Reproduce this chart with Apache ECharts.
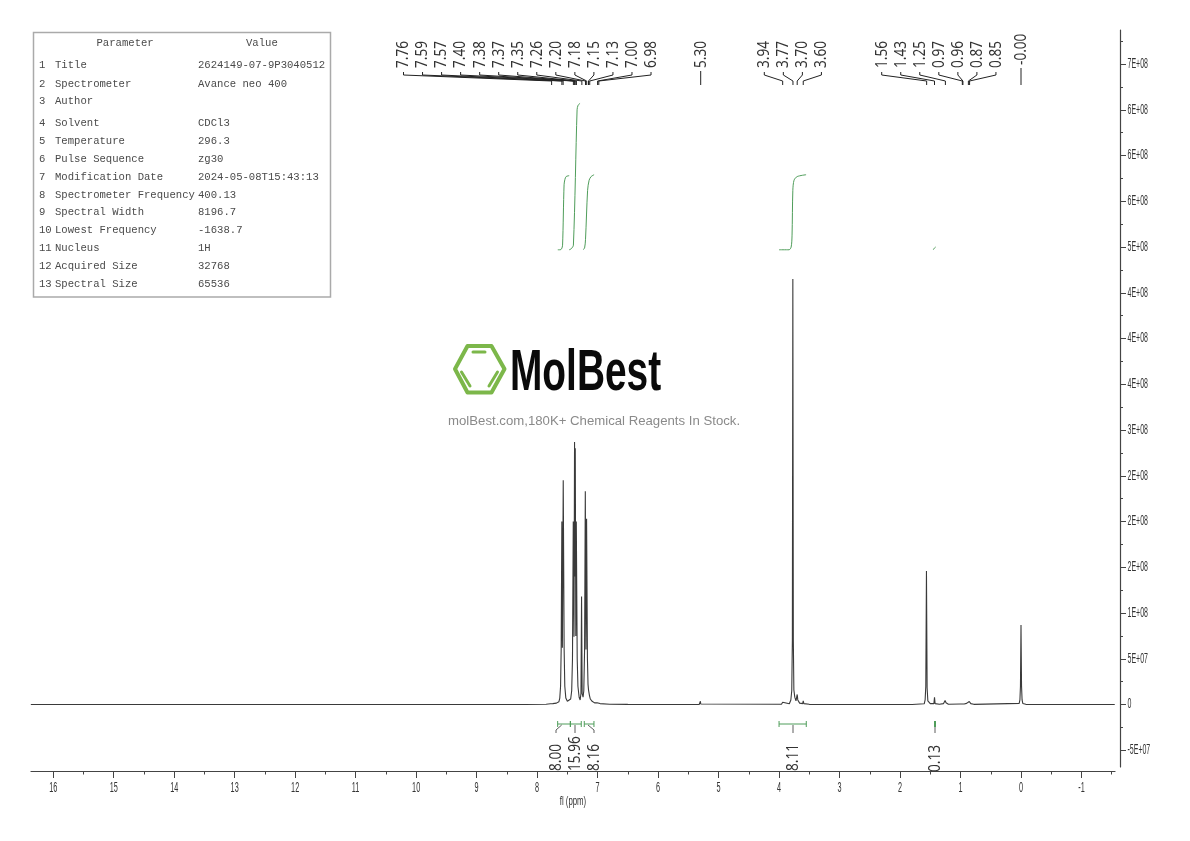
<!DOCTYPE html>
<html><head><meta charset="utf-8"><style>html,body{margin:0;padding:0;background:#fff}#c{width:1190px;height:841px}</style>
<script src="https://cdn.jsdelivr.net/npm/echarts@6/dist/echarts.min.js"></script></head><body><div id="c"></div>
<script>
const spectrum = [[16.37,0],[8.2,0],[7.85,3e5],[7.78,8e5],[7.76,2e6],[7.74,1e6],[7.68,1.5e6],[7.64,3e6],[7.625,7e6],[7.612,2e7],[7.602,6e7],[7.591,2.0e8],[7.582,6.2e7],[7.568,2.45e8],[7.553,6e7],[7.542,2e7],[7.525,7e6],[7.5,3.5e6],[7.47,3e6],[7.445,6e6],[7.428,1.5e7],[7.415,5e7],[7.402,2.0e8],[7.39,7.4e7],[7.381,2.87e8],[7.375,1.4e8],[7.369,2.8e8],[7.36,7.5e7],[7.352,2.0e8],[7.337,5e7],[7.325,2e7],[7.305,8e6],[7.288,5e6],[7.275,1.2e7],[7.265,1.18e8],[7.255,1.2e7],[7.24,8e6],[7.228,1.5e7],[7.215,6e7],[7.203,2.33e8],[7.192,6e7],[7.182,2.03e8],[7.168,5e7],[7.158,2.2e7],[7.15,1.6e7],[7.135,1e7],[7.12,6e6],[7.09,3.5e6],[7.05,1.8e6],[7.01,2e6],[7.0,4e6],[6.99,2.5e6],[6.98,3.5e6],[6.96,1e6],[6.8,3e5],[6.5,1e5],[5.32,0],[5.305,5e5],[5.3,3.5e6],[5.295,5e5],[5.27,0],[3.96,3e5],[3.94,2.5e6],[3.92,4e5],[3.83,8e5],[3.805,5e6],[3.79,1.5e7],[3.78,7e7],[3.772,4.65e8],[3.764,7e7],[3.755,1.6e7],[3.74,8e6],[3.72,4e6],[3.71,6e6],[3.7,1.1e7],[3.69,5e6],[3.66,1.5e6],[3.61,1e6],[3.6,4e6],[3.59,1e6],[3.5,2e5],[1.8,0],[1.6,8e5],[1.585,5e6],[1.574,2e7],[1.563,1.46e8],[1.552,1.8e7],[1.54,4e6],[1.5,1e6],[1.44,1e6],[1.43,8e6],[1.42,1e6],[1.35,3e5],[1.28,1e6],[1.255,4.5e6],[1.24,2e6],[1.2,3e5],[1.0,6e5],[0.97,1.5e6],[0.96,1.6e6],[0.94,6e5],[0.9,1.2e6],[0.87,3e6],[0.855,3.3e6],[0.83,1e6],[0.78,2e5],[0.03,1.2e6],[0.018,5e6],[0.009,2e7],[0,8.7e7],[-0.009,2e7],[-0.018,5e6],[-0.03,1.2e6],[-0.08,2e5],[-1.55,0]];
const integralCurve1 = [[7.658,4.97e8],[7.62,4.97e8],[7.595,4.98e8],[7.579,5.02e8],[7.554,5.68e8],[7.54,5.74e8],[7.52,5.77e8],[7.47,5.78e8]];
const integralCurve2 = [[7.47,4.97e8],[7.438,4.98e8],[7.4,5.02e8],[7.339,6.5e8],[7.322,6.55e8],[7.29,6.57e8]];
const integralCurve3 = [[7.24,4.97e8],[7.215,4.99e8],[7.2,5.08e8],[7.165,5.62e8],[7.14,5.73e8],[7.107,5.77e8],[7.058,5.79e8]];
const integralCurve4 = [[4.0,4.97e8],[3.835,4.97e8],[3.8,5.0e8],[3.785,5.13e8],[3.772,5.62e8],[3.752,5.73e8],[3.7,5.77e8],[3.553,5.79e8]];
const integralCurve5 = [[1.45,4.97e8],[1.43,4.99e8],[1.41,5.0e8]];
const xMajorTicks = [16,15,14,13,12,11,10,9,8,7,6,5,4,3,2,1,0,-1];
const xTickLabels = ['16','15','14','13','12','11','10','9','8','7','6','5','4','3','2','1','0','-1'];
const xMinorTicks = [15.5,14.5,13.5,12.5,11.5,10.5,9.5,8.5,7.5,6.5,5.5,4.5,3.5,2.5,1.5,0.5,-0.5,-1.5];
const yMajorTicks = [-5e7,0,5e7,1e8,1.5e8,2e8,2.5e8,3e8,3.5e8,4e8,4.5e8,5e8,5.5e8,6e8,6.5e8,7e8];
const yTickLabels = ['-5E+07','0','5E+07','1E+08','2E+08','2E+08','2E+08','3E+08','4E+08','4E+08','4E+08','5E+08','6E+08','6E+08','6E+08','7E+08'];
const yMinorTicks = [-2.5e7,2.5e7,7.5e7,1.25e8,1.75e8,2.25e8,2.75e8,3.25e8,3.75e8,4.25e8,4.75e8,5.25e8,5.75e8,6.25e8,6.75e8,7.25e8];
const peaksAromatic = [7.76,7.59,7.57,7.40,7.38,7.37,7.35,7.26,7.20,7.18,7.15,7.13,7.00,6.98];
const peaksSingle530 = [5.30];
const peaksMethoxy = [3.94,3.77,3.70,3.60];
const peaksAliphatic = [1.56,1.43,1.25,0.97,0.96,0.87,0.85];
const peaksTms = [0.00];
const integralRegions = [[7.66,7.45],[7.45,7.27],[7.22,7.06],[4.0,3.55]];
const integralLabels = ['8.00','15.96','8.16','8.11'];
const smallIntegralPpm = [1.43];
const smallIntegralLabel = ['0.13'];
const tableNumbers = ['1','2','3','4','5','6','7','8','9','10','11','12','13'];
const tableNames = ['Title','Spectrometer','Author','Solvent','Temperature','Pulse Sequence','Modification Date','Spectrometer Frequency','Spectral Width','Lowest Frequency','Nucleus','Acquired Size','Spectral Size'];
const tableValues = ['2624149-07-9P3040512','Avance neo 400','','CDCl3','296.3','zg30','2024-05-08T15:43:13','400.13','8196.7','-1638.7','1H','32768','65536'];
const tableRowY = [65,84,101,123,141,159,177,195,212,230,248,266,284];

const GREEN = '#4f9d5a';
const TICK_FONT = '14px "Liberation Sans"';
const PEAK_FONT = '17px "Noto Sans"';

function leaderSeries(peaks, startX, straight, textBottom, fmt) {
  return {
    type: 'custom', xAxisIndex: 0, yAxisIndex: 0, silent: true, clip: false, z: 5,
    data: peaks.map(p => [p, 0]),
    renderItem(params, api) {
      const i = params.dataIndex;
      const tx = api.coord([api.value(0), 0])[0];
      const lx = startX + i * 19.04;
      const pts = straight ? [[lx, textBottom + 3], [lx, 85]] : [[lx, 72], [lx, 75], [tx, 81], [tx, 85]];
      return { type: 'group', children: [
        { type: 'polyline', shape: { points: pts }, style: { stroke: '#222', lineWidth: 1, fill: null } },
        { type: 'text', x: lx, y: textBottom, rotation: Math.PI / 2, scaleX: 0.8,
          style: { text: fmt(peaks[i]), font: PEAK_FONT, fill: '#333', align: 'left', verticalAlign: 'middle' } }
      ] };
    }
  };
}
function integralBars() {
  const slots = [{ from: 561.7, lx: 556, bottom: 771 }, { from: 575, lx: 575, bottom: 771 }, { from: 588, lx: 594, bottom: 771 }, { from: 793, lx: 793, bottom: 771 }];
  return {
    type: 'custom', xAxisIndex: 0, yAxisIndex: 0, silent: true, clip: false, z: 5,
    data: integralRegions,
    renderItem(params, api) {
      const i = params.dataIndex;
      const a = api.coord([api.value(0), 0])[0], b = api.coord([api.value(1), 0])[0];
      const s = slots[i], y = 724;
      return { type: 'group', children: [
        { type: 'line', shape: { x1: a, y1: y, x2: b, y2: y }, style: { stroke: GREEN, lineWidth: 1 } },
        { type: 'line', shape: { x1: a, y1: y - 3, x2: a, y2: y + 3 }, style: { stroke: GREEN, lineWidth: 1 } },
        { type: 'line', shape: { x1: b, y1: y - 3, x2: b, y2: y + 3 }, style: { stroke: GREEN, lineWidth: 1 } },
        { type: 'polyline', shape: { points: [[s.from, y + 1], [s.lx, y + 6], [s.lx, 733]] }, style: { stroke: '#333', lineWidth: 0.8, fill: null } },
        { type: 'text', x: s.lx, y: s.bottom, rotation: Math.PI / 2, scaleX: 0.8,
          style: { text: integralLabels[i], font: PEAK_FONT, fill: '#333', align: 'left', verticalAlign: 'middle' } }
      ] };
    }
  };
}
function smallIntegral() {
  return {
    type: 'custom', xAxisIndex: 0, yAxisIndex: 0, silent: true, clip: false, z: 5,
    data: smallIntegralPpm.map(p => [p, 0]),
    renderItem(params, api) {
      const x = api.coord([api.value(0), 0])[0] + 0.5;
      return { type: 'group', children: [
        { type: 'line', shape: { x1: x, y1: 721, x2: x, y2: 727 }, style: { stroke: GREEN, lineWidth: 2 } },
        { type: 'line', shape: { x1: x, y1: 727, x2: x, y2: 733 }, style: { stroke: '#333', lineWidth: 0.8 } },
        { type: 'text', x: x, y: 772, rotation: Math.PI / 2, scaleX: 0.8,
          style: { text: smallIntegralLabel[0], font: PEAK_FONT, fill: '#333', align: 'left', verticalAlign: 'middle' } }
      ] };
    }
  };
}
function curve(d) {
  return { type: 'line', data: d, xAxisIndex: 0, yAxisIndex: 0, showSymbol: false, smooth: 0.3, silent: true, z: 3,
    lineStyle: { color: GREEN, width: 1 }, emphasis: { disabled: true } };
}
/* condensed tick labels: no condensed face is installed, so the text is squeezed horizontally */
function xLabelSeries() {
  return { type: 'custom', xAxisIndex: 0, yAxisIndex: 0, silent: true, clip: false, z: 6,
    data: xMajorTicks.map(v => [v, 0]),
    renderItem(params, api) {
      const x = api.coord([api.value(0), 0])[0];
      return { type: 'text', x, y: 788, scaleX: 0.52,
        style: { text: xTickLabels[params.dataIndex], font: TICK_FONT, fill: '#333', align: 'center', verticalAlign: 'middle' } };
    } };
}
function yLabelSeries() {
  return { type: 'custom', xAxisIndex: 0, yAxisIndex: 0, silent: true, clip: false, z: 6,
    data: yMajorTicks.map(v => [0, v]),
    renderItem(params, api) {
      const y = api.coord([0, api.value(1)])[1];
      return { type: 'text', x: 1127.5, y, scaleX: 0.5,
        style: { text: yTickLabels[params.dataIndex], font: TICK_FONT, fill: '#333', align: 'left', verticalAlign: 'middle' } };
    } };
}

const tableFont = '10.6px "Liberation Mono",monospace', tableInk = '#4a4a4a';
const tableGraphics = [
  { type: 'rect', shape: { x: 33.5, y: 32.5, width: 297, height: 264.5 }, style: { fill: '#fff', stroke: '#aaa', lineWidth: 1.5 } },
  { type: 'text', x: 96.5, y: 43, style: { text: 'Parameter', font: tableFont, fill: tableInk, verticalAlign: 'middle' } },
  { type: 'text', x: 246, y: 43, style: { text: 'Value', font: tableFont, fill: tableInk, verticalAlign: 'middle' } }
];
tableRowY.forEach((y, i) => {
  tableGraphics.push({ type: 'text', x: 39, y, style: { text: tableNumbers[i], font: tableFont, fill: tableInk, verticalAlign: 'middle' } });
  tableGraphics.push({ type: 'text', x: 55, y, style: { text: tableNames[i], font: tableFont, fill: tableInk, verticalAlign: 'middle' } });
  tableGraphics.push({ type: 'text', x: 198, y, style: { text: tableValues[i], font: tableFont, fill: tableInk, verticalAlign: 'middle' } });
});
const logoGreen = '#7cb74a';
const logoGraphics = [
  { type: 'polygon', shape: { points: [[455, 369], [467.5, 346], [491.5, 346], [504.5, 369], [491.5, 392.5], [467.5, 392.5]] }, style: { fill: null, stroke: logoGreen, lineWidth: 4, lineJoin: 'round' } },
  { type: 'line', shape: { x1: 473, y1: 352, x2: 485, y2: 352 }, style: { stroke: logoGreen, lineWidth: 3, lineCap: 'round' } },
  { type: 'line', shape: { x1: 461.5, y1: 372, x2: 470, y2: 386 }, style: { stroke: logoGreen, lineWidth: 3, lineCap: 'round' } },
  { type: 'line', shape: { x1: 489, y1: 386, x2: 497.5, y2: 372 }, style: { stroke: logoGreen, lineWidth: 3, lineCap: 'round' } },
  { type: 'text', x: 510, y: 373.5, scaleX: 0.67, style: { text: 'MolBest', font: 'bold 58px "Liberation Sans"', fill: '#0a0a0a', verticalAlign: 'middle' } },
  { type: 'text', x: 448, y: 421, style: { text: 'molBest.com,180K+ Chemical Reagents In Stock.', font: '13.2px "Liberation Sans"', fill: '#8a8a8a', verticalAlign: 'middle' } },
  { type: 'text', x: 573, y: 801, scaleX: 0.6, style: { text: 'fl (ppm)', font: '13px "Liberation Sans"', fill: '#333', align: 'center', verticalAlign: 'middle' } }
];

const yMin = -6.83e7, yMax = 7.372e8, xMin = -1.554, xMax = 16.367;
const axisInk = '#444';
const chart = echarts.init(document.getElementById('c'));
chart.setOption({
  animation: false, backgroundColor: '#fff',
  grid: { left: 31, right: 75, top: 30, bottom: 74, containLabel: false },
  graphic: { elements: tableGraphics.concat(logoGraphics) },
  xAxis: [
    { type: 'value', inverse: true, min: xMin, max: xMax, position: 'bottom', offset: 4.5, splitLine: { show: false },
      axisLine: { show: true, onZero: false, lineStyle: { color: axisInk, width: 1.2 } },
      axisTick: { show: true, length: 6.5, customValues: xMajorTicks, lineStyle: { color: axisInk, width: 1 } },
      axisLabel: { show: false } },
    { type: 'value', inverse: true, min: xMin, max: xMax, position: 'bottom', offset: 4.5, splitLine: { show: false },
      axisLine: { show: false, onZero: false },
      axisTick: { show: true, length: 3, customValues: xMinorTicks, lineStyle: { color: axisInk, width: 1 } },
      axisLabel: { show: false } }
  ],
  yAxis: [
    { type: 'value', min: yMin, max: yMax, position: 'right', offset: 5, splitLine: { show: false },
      axisLine: { show: true, onZero: false, lineStyle: { color: axisInk, width: 1.2 } },
      axisTick: { show: true, length: 6, customValues: yMajorTicks, lineStyle: { color: axisInk, width: 1 } },
      axisLabel: { show: false } },
    { type: 'value', min: yMin, max: yMax, position: 'right', offset: 5, splitLine: { show: false },
      axisLine: { show: false, onZero: false },
      axisTick: { show: true, length: 3, customValues: yMinorTicks, lineStyle: { color: axisInk, width: 1 } },
      axisLabel: { show: false } }
  ],
  series: [
    { type: 'line', data: spectrum, xAxisIndex: 0, yAxisIndex: 0, showSymbol: false, silent: true, z: 2,
      lineStyle: { color: '#3a3a3a', width: 1.1 }, emphasis: { disabled: true } },
    curve(integralCurve1), curve(integralCurve2), curve(integralCurve3), curve(integralCurve4), curve(integralCurve5),
    leaderSeries(peaksAromatic, 403.5, false, 68, v => v.toFixed(2)),
    leaderSeries(peaksSingle530, 700.7, true, 68, v => v.toFixed(2)),
    leaderSeries(peaksMethoxy, 764.3, false, 68, v => v.toFixed(2)),
    leaderSeries(peaksAliphatic, 881.7, false, 68, v => v.toFixed(2)),
    leaderSeries(peaksTms, 1021, true, 65, v => '-' + v.toFixed(2)),
    integralBars(), smallIntegral(), xLabelSeries(), yLabelSeries()
  ]
});
</script></body></html>
